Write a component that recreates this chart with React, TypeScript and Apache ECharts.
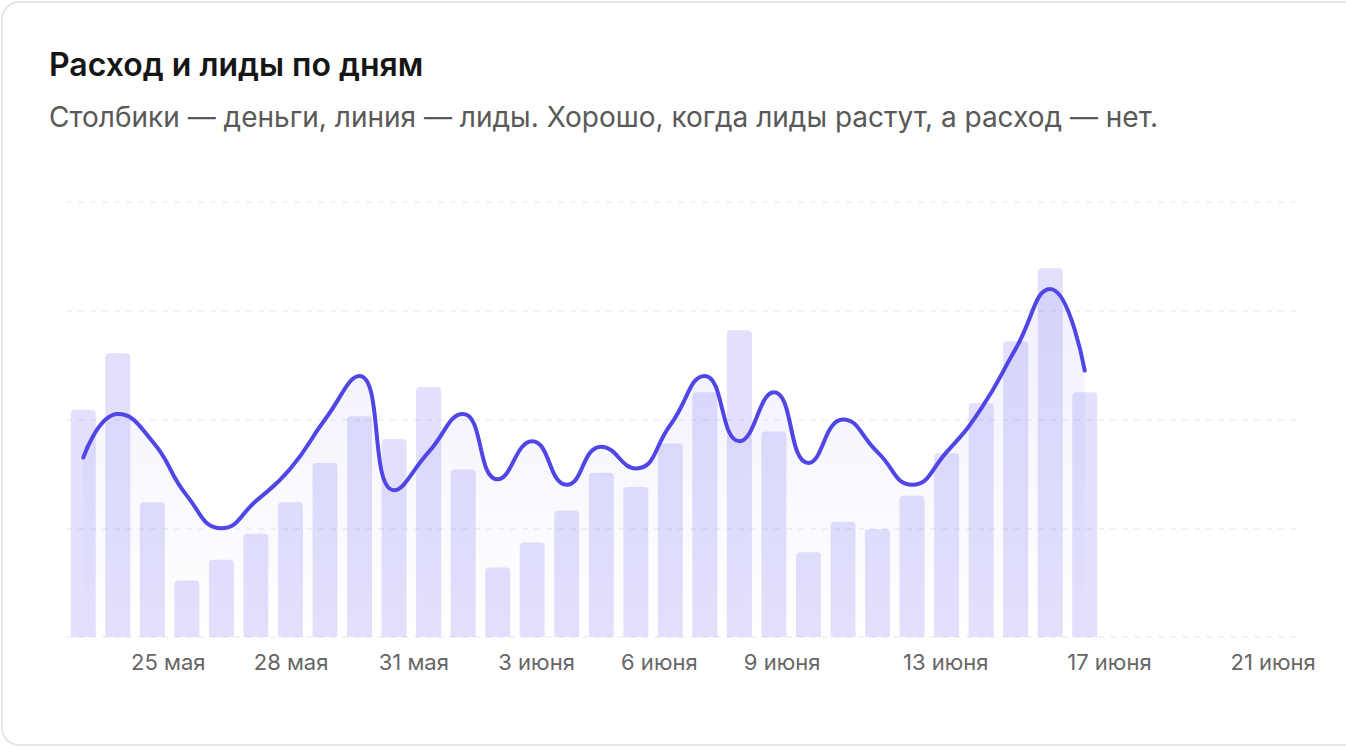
import React, { useEffect, useRef } from "react";
import * as echarts from "echarts";

const TITLE = "Расход и лиды по дням";
const SUBTITLE = "Столбики — деньги, линия — лиды. Хорошо, когда лиды растут, а расход — нет.";

const days = [
  "2025-05-18", "2025-05-19", "2025-05-20", "2025-05-21", "2025-05-22", "2025-05-23",
  "2025-05-24", "2025-05-25", "2025-05-26", "2025-05-27", "2025-05-28", "2025-05-29",
  "2025-05-30", "2025-05-31", "2025-06-01", "2025-06-02", "2025-06-03", "2025-06-04",
  "2025-06-05", "2025-06-06", "2025-06-07", "2025-06-08", "2025-06-09", "2025-06-10",
  "2025-06-11", "2025-06-12", "2025-06-13", "2025-06-14", "2025-06-15", "2025-06-16",
];

const spend = [
  20900, 26100, 12400, 5200, 7100, 9500, 12400, 16000, 20300, 18200,
  23000, 15400, 6400, 8700, 11600, 15100, 13800, 17800, 22500, 28200,
  18900, 7800, 10600, 9900, 13000, 16900, 21500, 27200, 33900, 22500,
];

const leads = [
  33, 41, 36, 26, 20, 25, 31, 40, 48, 27,
  34, 41, 29, 36, 28, 35, 31, 39, 48, 36,
  45, 32, 40, 34, 28, 34, 42, 53, 64, 49,
];

const tickDates = [
  "2025-05-25", "2025-05-28", "2025-05-31", "2025-06-03", "2025-06-06",
  "2025-06-09", "2025-06-13", "2025-06-17", "2025-06-21",
];
const monthNames = [
  "января", "февраля", "марта", "апреля", "мая", "июня",
  "июля", "августа", "сентября", "октября", "ноября", "декабря",
];
const axisStart = "2025-05-22T12:00:00Z";
const axisEnd = "2025-06-21T14:00:00Z";

const FONT = "Inter, 'Noto Sans', sans-serif";

export default function App() {
  const ref = useRef<HTMLDivElement>(null);

  useEffect(() => {
    if (!ref.current) return;
    const chart = echarts.init(ref.current, undefined, { renderer: "svg" });
    const gridTop = 202;
    const gridHeight = 435;
    const option = {
      animation: false,
      textStyle: { fontFamily: FONT },
      title: [
        {
          text: TITLE,
          left: 49,
          top: 48,
          padding: 0,
          textStyle: {
            fontFamily: FONT,
            fontSize: 32,
            fontWeight: 600,
            color: "#161616",
            lineHeight: 32,
          },
        },
        {
          text: SUBTITLE,
          left: 49,
          top: 103,
          padding: 0,
          textStyle: {
            fontFamily: FONT,
            fontSize: 28,
            fontWeight: 400,
            color: "#595959",
            lineHeight: 28,
          },
        },
      ],
      grid: [
        { left: 66, top: gridTop, width: 1036, height: gridHeight },
        { left: 66, top: gridTop, width: 1231, height: gridHeight },
      ],
      xAxis: [
        {
          type: "category",
          gridIndex: 0,
          data: days,
          show: false,
          boundaryGap: true,
        },
        {
          type: "value",
          gridIndex: 1,
          min: Date.parse(axisStart),
          max: Date.parse(axisEnd),
          axisLine: { show: false },
          axisTick: { show: false },
          splitLine: { show: false },
          axisLabel: {
            customValues: tickDates.map((d) => Date.parse(d + "T00:00:00Z")),
            formatter: (v: number) => {
              const d = new Date(v);
              return d.getUTCDate() + " " + monthNames[d.getUTCMonth()];
            },
            color: "#666666",
            fontSize: 22,
            lineHeight: 22,
            margin: 14,
            fontFamily: FONT,
          },
        },
      ],
      yAxis: [
        {
          type: "value",
          gridIndex: 0,
          min: 0,
          max: 40000,
          interval: 10000,
          show: false,
          splitLine: { show: false },
        },
        {
          type: "value",
          gridIndex: 0,
          min: 0,
          max: 80,
          interval: 20,
          show: false,
          splitLine: { show: false },
        },
        {
          type: "value",
          gridIndex: 1,
          min: 0,
          max: 40000,
          interval: 10000,
          axisLine: { show: false },
          axisTick: { show: false },
          axisLabel: { show: false },
          splitLine: {
            show: true,
            lineStyle: { color: "#efefef", width: 1.5, type: [6, 6] },
          },
        },
      ],
      series: [
        {
          name: "Расход",
          type: "bar",
          xAxisIndex: 0,
          yAxisIndex: 0,
          data: spend,
          barWidth: 25,
          itemStyle: {
            color: "rgba(99, 88, 240, 0.19)",
            borderRadius: [4, 4, 0, 0],
          },
        },
        {
          name: "Лиды",
          type: "line",
          xAxisIndex: 0,
          yAxisIndex: 1,
          data: leads,
          smooth: true,
          showSymbol: false,
          symbol: "none",
          lineStyle: { color: "#4f46e5", width: 4, cap: "round" },
          areaStyle: {
            color: new echarts.graphic.LinearGradient(0, 0, 0, 1, [
              { offset: 0, color: "rgba(79, 70, 229, 0.12)" },
              { offset: 1, color: "rgba(79, 70, 229, 0.0)" },
            ]),
          },
        },
      ],
    };
    chart.setOption(option as any);
    return () => chart.dispose();
  }, []);

  return (
    <div style={{ position: "fixed", left: 0, top: 0, width: 1346, height: 748, background: "#ffffff", overflow: "hidden" }}>
      <div
        style={{
          position: "absolute",
          left: 1,
          top: 1,
          width: 1360,
          height: 745,
          boxSizing: "border-box",
          border: "2px solid #e6e6e6",
          borderRadius: 18,
          background: "#ffffff",
        }}
      />
      <div ref={ref} style={{ position: "absolute", left: 0, top: 0, width: 1346, height: 748 }} />
    </div>
  );
}
